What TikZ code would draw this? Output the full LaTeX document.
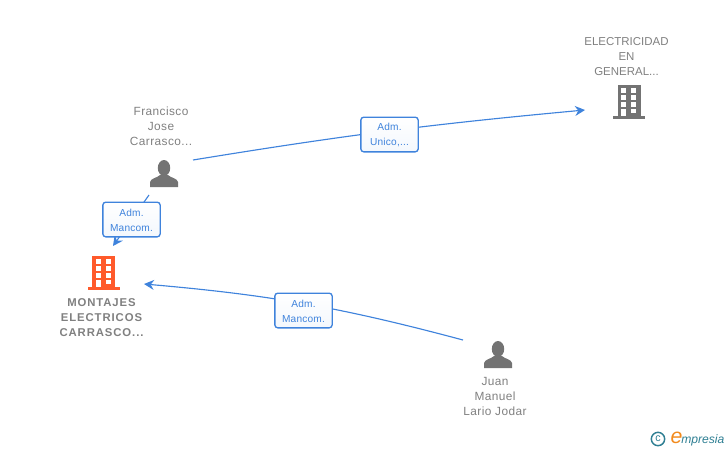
\documentclass[tikz,border=0pt]{standalone}
\usepackage{fontspec}
\usetikzlibrary{arrows.meta}
\setmainfont{Liberation Sans}
\newfontfamily\namefont[LetterSpace=3.5]{Liberation Sans}
\newfontfamily\boldnamefont[LetterSpace=8,BoldFont={Liberation Sans Bold}]{Liberation Sans}
\newfontfamily\boxfont[LetterSpace=2]{Liberation Sans}
\definecolor{icongray}{HTML}{737373}
\definecolor{namegray}{HTML}{808080}
\definecolor{linkblue}{HTML}{3F83DC}
\definecolor{iconorange}{HTML}{FF5A2B}
\definecolor{logoteal}{HTML}{2F7F93}
\definecolor{logoorange}{HTML}{F28A1C}
\newcommand{\boxstrut}{\rule{0pt}{6.4pt}}
\tikzset{
  nametext/.style={align=center, text=namegray, inner sep=0pt, font=\namefont\fontsize{8.9}{11.25}\selectfont},
  capstext/.style={nametext, font=\fontsize{8.6}{11.25}\selectfont},
  linkbox/.style={draw=linkblue, top color=white, bottom color=white!94!linkblue, rounded corners=2.2pt, line width=1pt, minimum width=43pt, minimum height=26pt, inner sep=0pt, align=center, text=linkblue, font=\boxfont\fontsize{7.6}{11.25}\selectfont},
  link/.style={draw=linkblue, line width=0.85pt, -{Stealth[length=7.5pt, width=7.5pt, inset=2.5pt]}},
  personicon/.pic={
    \fill (0,-5) ellipse [x radius=6.2, y radius=8];
    \fill (-14,14) -- (-14,9) .. controls (-13,5) and (-7,5) .. (-4,2) -- (4,2) .. controls (7,5) and (13,5) .. (14,9) -- (14,14) -- cycle;
  },
  buildingicon/.pic={
    \fill (-11.5,0) rectangle (11.5,31);
    \fill (-16,31) rectangle (16,34);
    \foreach \y in {3,10,17}{
      \foreach \x in {-8,2}{
        \fill[white] (\x,\y) rectangle (\x+5,\y+4.5);
      }
    }
    \fill[white] (2,24) rectangle (7,28);
    \fill[white] (-8,24) rectangle (-3,31);
  }
}
\begin{document}
\begin{tikzpicture}[x=0.75pt, y=-0.75pt]
  \useasboundingbox (0,0) rectangle (728,450);
  % icons
  \pic[icongray] at (164,173) {personicon};
  \pic[icongray] at (498,354) {personicon};
  \pic[icongray] at (629,85) {buildingicon};
  \pic[iconorange] at (103.5,256) {buildingicon};
  % names
  \node[nametext] (francisco) at (161,126) {Francisco\\Jose\\Carrasco...};
  \node[nametext] (juan) at (495,396) {Juan\\Manuel\\Lario Jodar};
  \node[capstext] (electricidad) at (626.5,56.5) {ELECTRICIDAD\\EN\\GENERAL...};
  \node[nametext, font=\boldnamefont\fontsize{8.5}{11.25}\bfseries] (montajes) at (101.5,317.5) {MONTAJES\\ELECTRICOS\\CARRASCO...};
  % connector ends
  \coordinate (franciscoA) at (193,160);
  \coordinate (electricidadA) at (585,110);
  \coordinate (franciscoB) at (149,195);
  \coordinate (montajesA) at (113,246);
  \coordinate (juanA) at (463,340);
  \coordinate (montajesB) at (144,284);
  \draw[link] (franciscoA) to[bend left=2] (electricidadA);
  \draw[link] (franciscoB) -- (montajesA);
  \draw[link] (juanA) to[bend right=5] (montajesB);
  % labels
  \node[linkbox] (unico) at (389.5,134.5) {\boxstrut Adm.\\Unico,...};
  \node[linkbox] (mancomA) at (131.5,219.5) {\boxstrut Adm.\\Mancom.};
  \node[linkbox] (mancomB) at (303.5,310.5) {\boxstrut Adm.\\Mancom.};
  % logo
  \node[draw=logoteal, circle, line width=1.1pt, minimum size=10pt, inner sep=0pt, text=logoteal, font=\fontsize{8}{8}\selectfont] (copyr) at (658,439) {c};
  \node[text=logoorange, inner sep=0pt, font=\fontsize{16}{16}\selectfont\itshape] (logoe) at (676.5,437.5) {e};
  \node[text=logoteal, inner sep=0pt, anchor=west, font=\fontsize{9.1}{9.1}\selectfont\itshape] (logotext) at (681,440) {mpresia};
\end{tikzpicture}
\end{document}
